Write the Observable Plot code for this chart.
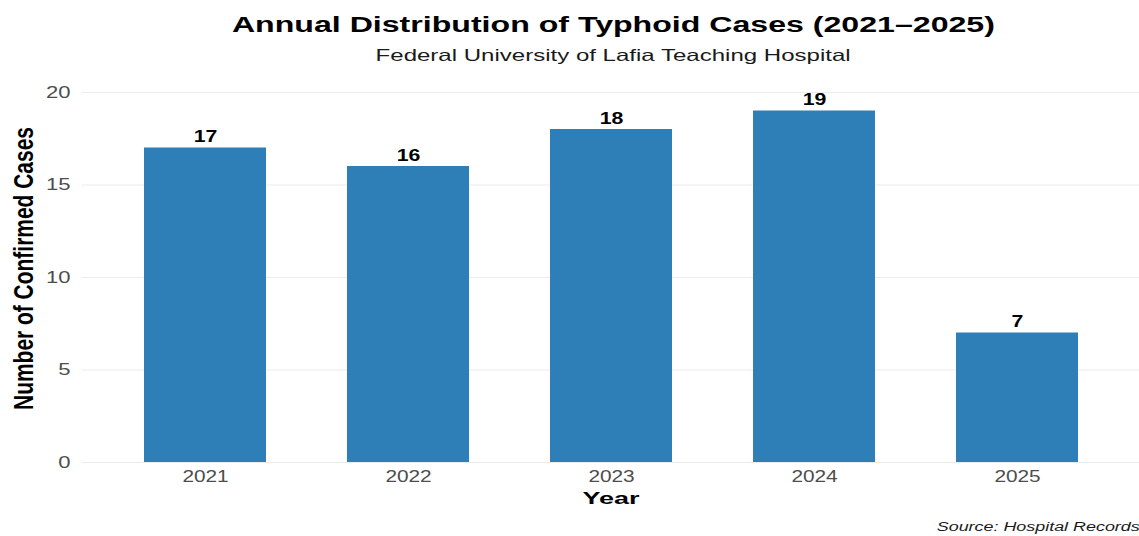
<!DOCTYPE html>
<html>
<head>
<meta charset="utf-8">
<script src="https://cdn.jsdelivr.net/npm/d3@7"></script>
<script src="https://cdn.jsdelivr.net/npm/@observablehq/plot@0.6"></script>
<style>
  html, body { margin: 0; padding: 0; background: #fff; }
  body { width: 1139px; height: 536px; overflow: hidden; font-family: "Liberation Sans", Arial, sans-serif; }
  .wrap { margin-left: 88px; width: 1051px; text-align: center; white-space: nowrap; }
  .wrap span, #caption span { display: inline-block; }
  #title { padding-top: 6px; height: 38px; line-height: 38px; font-size: 22px; font-weight: bold; color: #000; }
  #subtitle { height: 22px; line-height: 22px; font-size: 16.5px; color: #1a1a1a; }
  #chart svg { display: block; }
  #caption { height: 18px; line-height: 18px; font-size: 12.5px; font-style: italic; text-align: right; color: #1a1a1a; margin-right: -1px; white-space: nowrap; }
  #caption span { transform-origin: right center; }
</style>
</head>
<body>
<div id="title" class="wrap"><span>Annual Distribution of Typhoid Cases (2021–2025)</span></div>
<div id="subtitle" class="wrap"><span>Federal University of Lafia Teaching Hospital</span></div>
<div id="chart"></div>
<div id="caption"><span>Source: Hospital Records</span></div>
<script>
const years = ["2021", "2022", "2023", "2024", "2025"];
const cases = [17, 16, 18, 19, 7];
const yTicks = [0, 5, 10, 15, 20];

const data = years.map((y, i) => ({year: y, cases: cases[i]}));

const chart = Plot.plot({
  width: 1139,
  height: 452,
  marginLeft: 82,
  marginRight: 0,
  marginTop: 26,
  marginBottom: 56,
  style: {fontFamily: "'Liberation Sans', Arial, sans-serif", background: "#fff"},
  x: {domain: years, paddingInner: 0.4, paddingOuter: 0.3, label: null},
  y: {domain: [0, 20], label: null},
  marks: [
    Plot.ruleY(yTicks, {stroke: "#ebebeb", strokeWidth: 1.2}),
    Plot.axisY({ticks: yTicks, tickSize: 0, tickPadding: 12, fontSize: 16, fill: "#4d4d4d", label: null, ariaDescription: "yticks"}),
    Plot.axisX({tickSize: 0, tickPadding: 8, fontSize: 16, fill: "#4d4d4d", label: null, ariaDescription: "xticks"}),
    Plot.barY(data, {x: "year", y: "cases", fill: "#2e7fb8"}),
    Plot.text(data, {x: "year", y: "cases", text: d => String(d.cases), lineAnchor: "bottom", dy: -6, fontSize: 17, fontWeight: "bold", fill: "#000", ariaDescription: "barlabels"}),
    Plot.text(["Year"], {frameAnchor: "bottom", dy: 36, lineAnchor: "middle", fontSize: 17, fontWeight: "bold", fill: "#000", ariaDescription: "xtitle"}),
    Plot.text(["Number of Confirmed Cases"], {frameAnchor: "left", textAnchor: "middle", dx: -58, dy: -9, rotate: -90, lineAnchor: "middle", fontSize: 28, fontWeight: "bold", fill: "#000", ariaDescription: "ytitle"})
  ]
});
document.getElementById("chart").appendChild(chart);

// The reference image is horizontally stretched: widen horizontal texts to match.
function stretch(selector, factor, fixed) {
  d3.selectAll(selector).each(function () {
    const L = this.getComputedTextLength();
    this.setAttribute("textLength", fixed != null ? fixed : L * factor);
    this.setAttribute("lengthAdjust", "spacingAndGlyphs");
  });
}
stretch('g[aria-description="yticks"] text', 1.38);
stretch('g[aria-description="xticks"] text', 1.3);
stretch('g[aria-description="barlabels"] text', 1.25);
stretch('g[aria-description="xtitle"] text', null, 57);
stretch('g[aria-description="ytitle"] text', null, 283);

function fitWidth(sel, target) {
  const el = document.querySelector(sel);
  const w = el.getBoundingClientRect().width;
  el.style.transform = `scaleX(${target / w})`;
}
fitWidth("#title span", 763);
fitWidth("#subtitle span", 475);
fitWidth("#caption span", 203);
</script>
</body>
</html>
